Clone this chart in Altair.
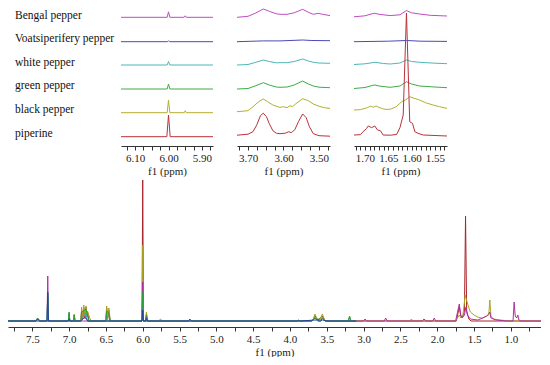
import altair as alt
import pandas as pd

# ---------------- categories / colours ----------------
SAMPLES = ["Bengal pepper", "Voatsiperifery pepper", "white pepper",
           "green pepper", "black pepper", "piperine"]
COLORS = {"Bengal pepper": "#c04cc0", "Voatsiperifery pepper": "#4a4ab8",
          "white pepper": "#4fb6b6", "green pepper": "#3cad46",
          "black pepper": "#b4af2e", "piperine": "#b83238"}
MAIN_COLORS = {"Bengal pepper": "#b02fa2", "Voatsiperifery pepper": "#2a3da0",
               "white pepper": "#3aa9b2", "green pepper": "#2d9c3c",
               "black pepper": "#aba324", "piperine": "#a8242a"}
MAIN_ORDER = ["piperine", "black pepper", "Bengal pepper", "white pepper",
              "green pepper", "Voatsiperifery pepper"]

# baseline of each stacked trace in the inset panels (inset intensity units)
STACK_BASE = {"Bengal pepper": 128.7, "Voatsiperifery pepper": 104.3,
              "white pepper": 81.0, "green pepper": 57.0,
              "black pepper": 33.3, "piperine": 9.3}
LABEL_Y = [130.3, 106.7, 83.3, 60.0, 36.0, 12.0]

# ---------------- tick values ----------------
MAIN_TICKS = [7.75, 7.5, 7.25, 7.0, 6.75, 6.5, 6.25, 6.0, 5.75, 5.5, 5.25, 5.0,
              4.75, 4.5, 4.25, 4.0, 3.75, 3.5, 3.25, 3.0, 2.75, 2.5, 2.25, 2.0,
              1.75, 1.5, 1.25, 1.0, 0.75]
P1_TICKS = [6.125, 6.1, 6.075, 6.05, 6.025, 6.0, 5.975, 5.95, 5.925, 5.9, 5.875]
P2_TICKS = [3.725, 3.7, 3.675, 3.65, 3.625, 3.6, 3.575, 3.55, 3.525, 3.5, 3.475]
P3_TICKS = [1.72, 1.71, 1.70, 1.69, 1.68, 1.67, 1.66, 1.65, 1.64, 1.63, 1.62,
            1.61, 1.60, 1.59, 1.58, 1.57, 1.56, 1.55, 1.54, 1.53]

# ---------------- inset 1 (6.14 - 5.87 ppm): (ppm, intensity) ----------------
P1 = {
    "Bengal pepper": [(6.142, 0), (6.004, 0), (6.0, 5.5), (5.996, 0), (5.953, 0), (5.95, 1.5), (5.947, 0), (5.867, 0)],
    "Voatsiperifery pepper": [(6.142, 0), (6.003, 0), (6.0, 1.0), (5.997, 0), (5.867, 0)],
    "white pepper": [(6.142, 0), (6.004, 0), (6.0, 3.5), (5.996, 0), (5.867, 0)],
    "green pepper": [(6.142, 0), (6.004, 0), (6.0, 5.0), (5.996, 0), (5.867, 0)],
    "black pepper": [(6.142, 0), (6.004, 0), (6.0, 12.5), (5.996, 0), (5.953, 0), (5.95, 2.0), (5.947, 0), (5.867, 0)],
    "piperine": [(6.142, 0), (6.005, 0), (6.0, 21.7), (5.995, 0), (5.867, 0)],
}

# ---------------- inset 2 (3.73 - 3.47 ppm) ----------------
P2 = {
    "Bengal pepper": [(3.731, 0), (3.70, 1), (3.68, 4), (3.657, 8.3), (3.64, 6), (3.62, 3.5), (3.61, 3),
                      (3.59, 3), (3.57, 4.5), (3.546, 8), (3.53, 5), (3.516, 3), (3.503, 4), (3.49, 3), (3.469, 1.7)],
    "Voatsiperifery pepper": [(3.731, 0), (3.657, 0.8), (3.61, 0.8), (3.546, 1.7), (3.52, 1.2), (3.469, 1)],
    "white pepper": [(3.731, 0), (3.70, 0.5), (3.68, 2.5), (3.657, 5), (3.64, 3.5), (3.62, 2.2), (3.61, 2.3),
                     (3.59, 2.3), (3.57, 3.5), (3.546, 6), (3.53, 4), (3.516, 2.7), (3.50, 2), (3.469, 1.7)],
    "green pepper": [(3.731, 0), (3.70, 0.5), (3.68, 3), (3.657, 6.3), (3.64, 4), (3.62, 2), (3.61, 1.7),
                     (3.59, 2), (3.57, 4), (3.546, 8), (3.53, 5), (3.516, 3), (3.50, 1.8), (3.469, 1.3)],
    "black pepper": [(3.731, 1), (3.70, 2), (3.686, 6), (3.67, 11), (3.657, 13.7), (3.645, 11), (3.63, 7.7),
                     (3.61, 5.3), (3.60, 6), (3.59, 5), (3.582, 7), (3.575, 6), (3.565, 9), (3.546, 14),
                     (3.53, 12), (3.516, 8.7), (3.50, 6.5), (3.485, 5), (3.469, 4.3)],
    "piperine": [(3.731, 1.5), (3.70, 2.5), (3.686, 5), (3.675, 12), (3.665, 21), (3.657, 23.5), (3.648, 20),
                 (3.64, 13), (3.63, 6), (3.62, 3.5), (3.61, 3), (3.595, 3.5), (3.585, 5), (3.578, 4),
                 (3.568, 7), (3.558, 15), (3.546, 22.7), (3.536, 19), (3.527, 10), (3.516, 3), (3.50, 1),
                 (3.469, 0.5)],
}

# ---------------- inset 3 (1.72 - 1.52 ppm) ----------------
P3 = {
    "Bengal pepper": [(1.7236, 0.5), (1.70, 1.5), (1.685, 3.5), (1.679, 4), (1.67, 3), (1.646, 1.7),
                      (1.625, 2.5), (1.611, 6.7), (1.60, 4.5), (1.583, 3.3), (1.56, 2), (1.524, 1.3)],
    "Voatsiperifery pepper": [(1.7236, 0), (1.65, 0.5), (1.611, 1.2), (1.58, 0.5), (1.524, 0.3)],
    "white pepper": [(1.7236, 0.5), (1.70, 1.2), (1.679, 2.7), (1.66, 1.5), (1.646, 1), (1.625, 2),
                     (1.611, 5), (1.60, 3.5), (1.583, 2.7), (1.55, 1.8), (1.524, 1.3)],
    "green pepper": [(1.7236, 0.5), (1.70, 1.5), (1.685, 3.5), (1.679, 4), (1.67, 3), (1.646, 1.7),
                     (1.625, 3), (1.611, 7.3), (1.60, 5), (1.583, 3), (1.55, 2), (1.524, 1.3)],
    "black pepper": [(1.7236, 2.7), (1.71, 3), (1.695, 5), (1.688, 6.5), (1.682, 5.5), (1.676, 6.7),
                     (1.67, 5.3), (1.662, 4), (1.655, 3.3), (1.645, 3.5), (1.633, 6), (1.621, 11),
                     (1.612, 13), (1.604, 16), (1.595, 14.5), (1.583, 12.7), (1.57, 10), (1.554, 7.7),
                     (1.54, 6), (1.524, 4.3)],
    "piperine": [(1.7236, 1.7), (1.71, 2), (1.704, 5), (1.697, 8), (1.693, 10.7), (1.686, 9),
                 (1.679, 10.7), (1.673, 6.7), (1.667, 6), (1.661, 1.7), (1.645, 1.5), (1.632, 2.3),
                 (1.625, 9), (1.618, 21.7), (1.611, 123.7), (1.604, 15), (1.598, 13.3), (1.593, 5),
                 (1.586, 3.3), (1.575, 1.7), (1.524, 0.7)],
}

# ---------------- full spectrum (7.83 - 0.59 ppm) ----------------
MAIN = {
    "piperine": [(7.83, 0), (7.45, 0), (7.42, 2), (7.39, 0), (7.01, 0), (7.0, 7), (6.99, 0), (6.94, 0),
                 (6.93, 6), (6.92, 0), (6.84, 0), (6.83, 11), (6.815, 2), (6.80, 13), (6.785, 3),
                 (6.77, 14), (6.76, 4), (6.75, 9), (6.73, 0), (6.50, 0), (6.49, 13), (6.475, 3),
                 (6.46, 11), (6.45, 0), (6.01, 0), (6.0, 141), (5.99, 0), (5.96, 0), (5.95, 7), (5.94, 0),
                 (3.70, 0), (3.66, 5), (3.62, 1), (3.56, 5), (3.52, 0), (1.74, 0), (1.70, 14), (1.68, 5),
                 (1.66, 3), (1.63, 10), (1.615, 105), (1.60, 10), (1.57, 2), (1.54, 0), (0.59, 0)],
    "black pepper": [(7.83, 0), (7.45, 0), (7.43, 2), (7.40, 0), (7.01, 0), (7.0, 6), (6.99, 0), (6.94, 0),
                     (6.93, 7), (6.92, 0), (6.84, 0), (6.83, 14), (6.815, 4), (6.80, 16), (6.785, 5),
                     (6.77, 15), (6.76, 5), (6.75, 10), (6.72, 3), (6.70, 0), (6.50, 0), (6.49, 15),
                     (6.475, 4), (6.46, 13), (6.44, 0), (6.01, 0), (6.0, 76), (5.99, 0), (5.96, 0),
                     (5.95, 9), (5.93, 0), (5.78, 0), (5.76, 2), (5.73, 0), (3.70, 0), (3.68, 2),
                     (3.66, 7), (3.63, 2), (3.59, 2), (3.56, 7), (3.53, 1), (3.50, 0), (3.21, 0),
                     (3.19, 4), (3.17, 0), (2.37, 0), (2.35, 2), (2.33, 0), (1.75, 0), (1.70, 6),
                     (1.68, 3), (1.65, 6), (1.62, 26), (1.59, 18), (1.55, 9), (1.50, 6), (1.45, 4),
                     (1.40, 3), (1.35, 4), (1.30, 6), (1.285, 21), (1.27, 5), (1.24, 2), (1.15, 1),
                     (1.0, 0), (0.59, 0)],
    "Bengal pepper": [(7.83, 0), (7.30, 0), (7.29, 45), (7.28, 0), (6.01, 0), (6.0, 39), (5.99, 0),
                      (3.70, 0), (3.66, 3), (3.62, 0), (3.58, 0), (3.56, 3), (3.52, 0), (3.0, 0),
                      (2.98, 2), (2.96, 0), (2.72, 0), (2.70, 3), (2.68, 0), (2.20, 0), (2.18, 2),
                      (2.15, 0), (2.06, 0), (2.04, 3), (2.02, 0), (1.75, 0), (1.70, 17), (1.68, 6),
                      (1.66, 3), (1.63, 6), (1.61, 14), (1.59, 6), (1.55, 2), (1.45, 1), (1.38, 3),
                      (1.33, 5), (1.30, 7), (1.285, 9), (1.27, 3), (1.20, 1), (1.05, 0), (0.97, 0),
                      (0.955, 19), (0.94, 5), (0.92, 3), (0.905, 6), (0.89, 1), (0.86, 0), (0.59, 0)],
    "white pepper": [(7.83, 0), (7.30, 0), (7.29, 25), (7.28, 0), (7.01, 0), (7.0, 8), (6.99, 0),
                     (6.84, 0), (6.80, 6), (6.77, 7), (6.75, 0), (6.50, 0), (6.49, 6), (6.47, 0),
                     (6.01, 0), (6.0, 22), (5.99, 0), (3.70, 0), (3.66, 4), (3.62, 0), (3.58, 0),
                     (3.56, 4), (3.52, 0), (3.21, 0), (3.19, 3), (3.17, 0), (3.10, 0)],
    "green pepper": [(7.83, 0), (7.45, 0), (7.43, 3), (7.40, 0), (7.30, 0), (7.29, 27), (7.28, 0),
                     (7.01, 0), (7.0, 9), (6.99, 0), (6.94, 0), (6.93, 6), (6.92, 0), (6.84, 0),
                     (6.83, 9), (6.80, 10), (6.77, 12), (6.75, 6), (6.73, 0), (6.50, 0), (6.49, 10),
                     (6.46, 8), (6.44, 0), (6.01, 0), (6.0, 29), (5.99, 0), (5.96, 0), (5.95, 6),
                     (5.93, 0), (3.70, 0), (3.66, 3), (3.62, 0), (3.58, 0), (3.56, 3), (3.52, 0),
                     (3.21, 0), (3.19, 5), (3.17, 0), (3.10, 0)],
    "Voatsiperifery pepper": [(7.83, 0), (7.45, 0), (7.43, 2), (7.40, 0), (7.30, 0), (7.29, 29),
                              (7.28, 0), (7.01, 0), (7.0, 2), (6.99, 0), (6.84, 0), (6.80, 3),
                              (6.77, 3), (6.75, 0), (6.01, 0), (6.0, 11), (5.99, 0), (5.96, 0),
                              (5.95, 3), (5.94, 0), (5.38, 0), (5.36, 2), (5.34, 0), (3.90, 0),
                              (3.88, 1), (3.86, 0), (3.66, 1), (3.56, 1), (3.50, 0), (3.10, 0)],
}

FONT = "Liberation Serif"


def to_df(series, base=None):
    rows = []
    for name, pts in series.items():
        off = base[name] if base else 0.0
        for i, (p, h) in enumerate(pts):
            rows.append({"s": name, "ppm": p, "y": h + off, "i": i})
    return pd.DataFrame(rows)


def x_axis(ticks, expr, pad_title=2):
    return alt.Axis(values=ticks, labelExpr=expr, title="f1 (ppm)", grid=False,
                    tickSize=4, labelPadding=2, titlePadding=pad_title,
                    labelOverlap=False, labelFlush=False)


def inset(series, domain, ticks, expr, width):
    df = to_df(series, STACK_BASE)
    layers = []
    for name in SAMPLES:
        layers.append(
            alt.Chart(df[df["s"] == name]).mark_line(color=COLORS[name], strokeWidth=1, clip=True)
            .encode(x=alt.X("ppm:Q", scale=alt.Scale(domain=domain, nice=False, zero=False),
                            axis=x_axis(ticks, expr)),
                    y=alt.Y("y:Q", scale=alt.Scale(domain=[0, 138], nice=False, zero=False), axis=None),
                    order="i:Q")
        )
    return alt.layer(*layers).properties(width=width, height=138)


EXPR_01 = "abs(datum.value*10 - round(datum.value*10)) < 0.001 ? format(datum.value, '.2f') : ''"
EXPR_005 = "abs(datum.value*20 - round(datum.value*20)) < 0.001 ? format(datum.value, '.2f') : ''"
EXPR_05 = "abs(datum.value*2 - round(datum.value*2)) < 0.001 ? format(datum.value, '.1f') : ''"

labels_df = pd.DataFrame({"label": SAMPLES, "pos": LABEL_Y})
labels = alt.Chart(labels_df).mark_text(align="left", baseline="middle", font=FONT,
                                        fontSize=11.5, color="#111").encode(
    x=alt.value(7),
    y=alt.Y("pos:Q", scale=alt.Scale(domain=[0, 138], nice=False, zero=False), axis=None),
    text="label:N",
).properties(width=109, height=138)

p1 = inset(P1, [6.142, 5.867], P1_TICKS, EXPR_01, 92)
p2 = inset(P2, [3.731, 3.469], P2_TICKS, EXPR_01, 93)
p3 = inset(P3, [1.7236, 1.524], P3_TICKS, EXPR_005, 93)

main_df = to_df(MAIN)
main_layers = []
for name in MAIN_ORDER:
    main_layers.append(
        alt.Chart(main_df[main_df["s"] == name]).mark_line(color=MAIN_COLORS[name], strokeWidth=1, clip=True)
        .encode(x=alt.X("ppm:Q", scale=alt.Scale(domain=[7.83, 0.59], nice=False, zero=False),
                        axis=x_axis(MAIN_TICKS, EXPR_05, 2)),
                y=alt.Y("y:Q", scale=alt.Scale(domain=[-6, 143], nice=False, zero=False), axis=None),
                order="i:Q")
    )
main = alt.layer(*main_layers).properties(width=533, height=149)

top = alt.hconcat(labels, alt.hconcat(p1, p2, p3, spacing=24), spacing=4)

chart = alt.vconcat(top, main, spacing=2).properties(padding=0).configure_view(
    stroke=None
).configure_axis(
    labelFont=FONT, labelFontSize=11, labelColor="#222",
    titleFont=FONT, titleFontSize=11, titleFontWeight="normal", titleColor="#222",
    domainColor="#333", tickColor="#333", domainWidth=1, tickWidth=1,
)

chart.save("out.html", embed_options={"renderer": "svg", "actions": False})
